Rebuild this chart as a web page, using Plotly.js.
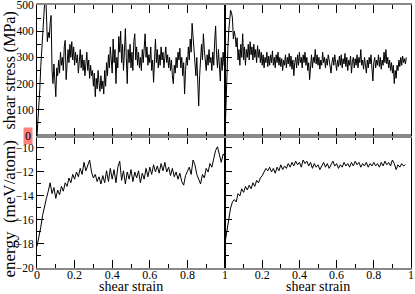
<!DOCTYPE html>
<html>
<head>
<meta charset="utf-8">
<script src="https://cdn.plot.ly/plotly-3.0.1.min.js"></script>
<style>
  html, body { margin: 0; padding: 0; background: #fff; }
  #chart { width: 415px; height: 294px; }
</style>
</head>
<body>
<div id="chart"></div>
<script>
// shear stress (MPa), left run, strain 0..1 in steps of 0.005
const stressLeft = [
  0, 50, 100, 180, 265, 330, 390, 450, 510, 560,
  470, 360, 395, 375, 430, 460, 250, 200, 275, 210,
  150, 260, 230, 290, 240, 320, 270, 300, 250, 340,
  365, 215, 300, 330, 280, 350, 300, 360, 290, 340,
  270, 320, 280, 310, 240, 300, 330, 260, 310, 250,
  290, 230, 280, 320, 250, 290, 220, 270, 230, 250,
  190, 240, 150, 220, 180, 250, 200, 170, 230, 180,
  210, 160, 250, 190, 280, 230, 310, 260, 340, 300,
  240, 370, 280, 330, 200, 300, 260, 380, 320, 400,
  280, 350, 250, 320, 410, 300, 200, 330, 280, 350,
  260, 320, 250, 360, 390, 290, 340, 270, 320, 260,
  300, 250, 330, 280, 360, 390, 300, 340, 270, 310,
  280, 340, 250, 290, 205, 320, 370, 280, 330, 260,
  310, 270, 340, 290, 320, 260, 300, 340, 280, 310,
  260, 300, 250, 290, 230, 200, 270, 240, 300, 260,
  320, 290, 335, 260, 300, 230, 280, 160, 250, 300,
  270, 340, 290, 370, 320, 430, 380, 320, 280, 230,
  300, 200, 115, 230, 300, 350, 290, 390, 330, 280,
  250, 310, 270, 330, 280, 300, 250, 320, 270, 360,
  420, 310, 260, 330, 280, 210, 300, 250, 320, 270,
  265
];

// shear stress (MPa), right run, strain 0..0.975 in steps of 0.005
const stressRight = [
  0, 140, 240, 330, 400, 440, 480, 470, 450, 370,
  400, 380, 340, 375, 290, 330, 270, 350, 300, 390,
  290, 340, 270, 330, 300, 350, 290, 360, 310, 340,
  290, 350, 300, 330, 280, 345, 300, 330, 280, 320,
  270, 310, 260, 300, 280, 320, 265, 305, 270, 310,
  280, 325, 270, 300, 260, 310, 280, 320, 270, 300,
  265, 295, 250, 290, 270, 310, 260, 300, 275, 315,
  265, 305, 255, 290, 230, 280, 300, 260, 310, 270,
  320, 280, 300, 260, 310, 280, 320, 270, 300, 250,
  280, 215, 270, 310, 260, 300, 280, 330, 275, 310,
  270, 300, 255, 290, 270, 320, 280, 300, 260, 295,
  270, 310, 290, 260, 240, 280, 300, 270, 310, 280,
  250, 290, 265, 305, 270, 310, 260, 295, 275, 315,
  265, 300, 250, 290, 270, 305, 240, 285, 300, 260,
  295, 270, 310, 260, 300, 280, 330, 270, 290, 255,
  300, 270, 240, 290, 260, 300, 275, 310, 250, 210,
  280, 300, 260, 290, 270, 310, 265, 300, 255, 290,
  270, 320, 280, 330, 275, 300, 260, 290, 250, 280,
  240, 270, 200, 250, 220, 270, 250, 290, 265, 300,
  270, 305, 280, 295, 275, 300
];

// energy (meV/atom), left run, strain 0..1 in steps of 0.01
const energyLeft = [
  -18.2, -17.5, -16.6, -15.6, -14.8, -14.2, -13.6, -12.9, -13.8, -13.3,
  -14.2, -13.5, -13.9, -13.2, -13.6, -12.9, -13.2, -12.5, -12.9, -12.2,
  -12.6, -12.0, -12.4, -11.7, -12.2, -11.2, -11.9, -11.4, -11.0, -12.0,
  -12.5, -12.2, -12.8, -12.4, -13.0, -12.3, -12.9, -11.9, -12.8, -11.7,
  -12.6, -11.8, -12.9, -11.6, -11.1, -12.7, -11.9, -13.0, -12.0, -12.6,
  -11.8, -12.8, -12.0, -12.5, -11.9, -12.9, -12.1, -12.6, -11.7, -12.4,
  -11.6, -12.2, -11.4, -12.0, -11.5, -12.1, -11.3, -11.9, -11.2, -12.0,
  -11.6, -12.3, -11.7, -12.4, -12.0, -12.6, -12.1, -12.8, -13.1, -12.3,
  -12.0, -11.6, -12.2, -11.0, -11.4, -12.2, -12.6, -13.0, -12.2, -12.5,
  -11.7, -12.0, -11.3, -11.6, -10.9, -10.2, -9.9, -10.6, -11.2, -10.5,
  -10.7
];

// energy (meV/atom), right run, strain 0..0.97 in steps of 0.01
const energyRight = [
  -17.9, -17.0, -16.0, -15.0, -14.5, -14.3, -14.5, -13.8, -14.0, -13.4,
  -13.7, -13.2, -13.5, -13.1, -13.4, -12.9, -13.2, -12.7, -12.9, -12.5,
  -12.3, -12.0, -11.7, -11.9, -11.6, -12.0, -11.7, -12.1, -11.6, -11.9,
  -11.4, -11.8, -11.5, -11.7, -11.3, -11.6, -11.2, -11.5, -11.1, -11.4,
  -11.2, -11.6, -11.0, -11.3, -11.1, -11.5, -11.2, -11.7, -11.3, -11.6,
  -11.4, -11.8, -11.5, -11.2, -11.6, -11.3, -11.7, -11.4, -11.1, -11.5,
  -11.3, -11.7, -11.4, -11.6, -11.2, -11.5, -11.3, -11.6, -11.2, -11.5,
  -11.1, -11.4, -11.2, -11.6, -11.3, -11.5, -11.2, -11.6, -11.3, -11.5,
  -11.2, -11.5, -11.3, -11.6, -11.2, -11.5, -11.1, -11.4, -11.2, -11.5,
  -11.0, -11.3, -11.8, -11.4, -11.6, -11.3, -11.5, -11.4
];

const strainTicksLeft = [0, 0.2, 0.4, 0.6, 0.8, 1];
const strainTicksRight = [0.2, 0.4, 0.6, 0.8, 1];
const stressTicks = [0, 100, 200, 300, 400, 500];
const energyTicks = [-20, -18, -16, -14, -12, -10];

const serif = '"Liberation Serif", "Times New Roman", serif';
const line = { color: '#000', width: 1 };

const traces = [
  { y: stressLeft, x0: 0, dx: 0.005, xaxis: 'x3', yaxis: 'y3' },
  { y: stressRight, x0: 0, dx: 0.005, xaxis: 'x4', yaxis: 'y4' },
  { y: energyLeft, x0: 0, dx: 0.01, xaxis: 'x', yaxis: 'y' },
  { y: energyRight, x0: 0, dx: 0.01, xaxis: 'x2', yaxis: 'y2' }
].map(t => Object.assign(t, { type: 'scatter', mode: 'lines', line: line, hoverinfo: 'skip' }));

function xAxis(domain, anchor, ticks, labels) {
  return {
    domain: domain, anchor: anchor, range: [0, 1],
    tickmode: 'array', tickvals: ticks,
    showticklabels: labels,
    ticks: 'inside', ticklen: 8, tickcolor: '#000', tickwidth: 1,
    ticklabeloverflow: 'allow', ticklabelstandoff: -5,
    minor: { tickmode: 'linear', tick0: 0, dtick: 0.1, ticks: 'inside', ticklen: 4, tickcolor: '#000' },
    showline: true, linecolor: '#888', linewidth: 2, mirror: 'ticks',
    showgrid: false, zeroline: false, fixedrange: true,
    tickfont: { family: serif, size: 12, color: '#000' }
  };
}

function yAxis(domain, anchor, range, ticks, minorStep, labels) {
  return {
    domain: domain, anchor: anchor, range: range,
    tickmode: 'array', tickvals: ticks,
    showticklabels: labels,
    ticks: 'inside', ticklen: 7, tickcolor: '#000', tickwidth: 1,
    ticklabeloverflow: 'allow',
    minor: { tickmode: 'linear', tick0: ticks[0], dtick: minorStep, ticks: 'inside', ticklen: 4, tickcolor: '#000' },
    showline: true, linecolor: '#000', linewidth: 1, mirror: true,
    showgrid: false, zeroline: false, fixedrange: true,
    tickfont: { family: serif, size: 11.5, color: '#000' }
  };
}

const split = 0.5027;
const mid = 0.502;

const stressAxisTL = yAxis([mid, 1], 'x3', [0, 500], stressTicks, 50, true);
stressAxisTL.ticktext = stressTicks.map(v => (v === 0 ? '' : String(v)));

const layout = {
  width: 415, height: 294,
  margin: { l: 37, r: 4, t: 5, b: 26 },
  paper_bgcolor: '#fff', plot_bgcolor: '#fff',
  showlegend: false,
  xaxis: xAxis([0, split], 'y', strainTicksLeft, true),
  xaxis2: xAxis([split, 1], 'y2', strainTicksRight, true),
  xaxis3: xAxis([0, split], 'y3', strainTicksLeft, false),
  xaxis4: xAxis([split, 1], 'y4', strainTicksRight, false),
  yaxis: yAxis([0, mid], 'x', [-20, -9], energyTicks, 1, true),
  yaxis2: yAxis([0, mid], 'x2', [-20, -9], energyTicks, 1, false),
  yaxis3: stressAxisTL,
  yaxis4: yAxis([mid, 1], 'x4', [0, 500], stressTicks, 50, false),
  annotations: [
    // "0" of the stress axis on the panel seam, set in the left margin in pixels
    { text: String(stressTicks[0]), xref: 'paper', yref: 'paper', x: 0, y: mid,
      xanchor: 'right', yanchor: 'middle', xshift: -4, yshift: 0, showarrow: false,
      bgcolor: 'rgba(255,0,0,0.5)',
      font: { family: 'Liberation Serif', size: 12, color: '#000000' } },
    { text: 'shear strain', xref: 'paper', yref: 'paper', x: 0.2513, y: -0.071,
      xanchor: 'center', yanchor: 'middle', showarrow: false,
      font: { family: serif, size: 14, color: '#000' } },
    { text: 'shear strain', xref: 'paper', yref: 'paper', x: 0.7513, y: -0.071,
      xanchor: 'center', yanchor: 'middle', showarrow: false,
      font: { family: serif, size: 14, color: '#000' } },
    { text: 'shear stress (MPa)', xref: 'paper', yref: 'paper', x: -0.073, y: 0.75,
      xanchor: 'center', yanchor: 'middle', showarrow: false, textangle: -90,
      font: { family: serif, size: 16, color: '#000' } },
    { text: 'energy\u00a0 (meV/atom)', xref: 'paper', yref: 'paper', x: -0.073, y: 0.225,
      xanchor: 'center', yanchor: 'middle', showarrow: false, textangle: -90,
      font: { family: serif, size: 17, color: '#000' } }
  ]
};

Plotly.newPlot('chart', traces, layout, { displayModeBar: false, staticPlot: true });
</script>
</body>
</html>
